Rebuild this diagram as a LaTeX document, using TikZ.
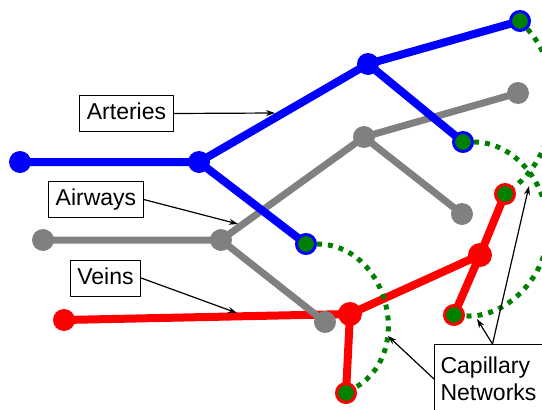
\documentclass[tikz,border=0pt]{standalone}
\usepackage{fontspec}
\setmainfont{Liberation Sans}
\usetikzlibrary{arrows.meta,backgrounds}
\begin{document}
\begin{tikzpicture}[x=1pt,y=-1pt,>={Stealth[length=9pt,width=6pt]},line join=round,
    vessel/.style={line width=8pt,line cap=round,#1},
    knot/.style={circle,fill=#1,inner sep=0pt,minimum size=22pt},
    leaf/.style={circle,fill=green!50!black,draw=#1,line width=3pt,inner sep=0pt,minimum size=19pt},
    capillary/.style={green!50!black,line width=5pt,dash pattern=on 5pt off 6pt},
    tag/.style={draw,line width=1pt,font=\fontsize{23}{27}\selectfont,inner xsep=7pt,inner ysep=7pt,text height=17pt,text depth=5pt},
    pointer/.style={->,line width=1.2pt}]
  \useasboundingbox (0,0) rectangle (542,410);
  \clip (0,0) rectangle (542,410);
  % veins
  \node[knot=red] (v0) at (64,320) {};
  \node[knot=red,minimum size=24pt] (v1) at (350,314) {};
  \node[knot=red,minimum size=24pt] (v2) at (480,255) {};
  \node[leaf=red] (v3) at (505,194) {};
  \node[leaf=red] (v4) at (454,315) {};
  \node[leaf=red] (v5) at (346,393) {};
  % airways
  \node[knot=gray] (w0) at (43,240) {};
  \node[knot=gray] (w1) at (221,240) {};
  \node[knot=gray] (w2) at (364,137) {};
  \node[knot=gray] (w3) at (518,93) {};
  \node[knot=gray] (w4) at (462,214) {};
  \node[knot=gray] (w5) at (325,322) {};
  % arteries
  \node[knot=blue] (a0) at (20,162) {};
  \node[knot=blue] (a1) at (199,162) {};
  \node[knot=blue] (a2) at (368,64) {};
  \node[leaf=blue] (a3) at (520,21) {};
  \node[leaf=blue] (a4) at (463,142) {};
  \node[leaf=blue] (a5) at (306,244) {};
  \begin{pgfonlayer}{background}
    \draw[vessel=red] (v0.center) -- (v1.center) -- (v2.center) -- (v3.center)
      (v1.center) -- (v5.center) (v2.center) -- (v4.center);
    \draw[vessel=gray,line width=7pt] (w0.center) -- (w1.center) -- (w2.center) -- (w3.center)
      (w2.center) -- (w4.center) (w1.center) -- (w5.center);
    \draw[vessel=blue] (a0.center) -- (a1.center) -- (a2.center) -- (a3.center)
      (a2.center) -- (a4.center) (a1.center) -- (a5.center);
  \end{pgfonlayer}
  % capillary beds between the arterial and venous ends
  \draw[capillary] (a5) .. controls (387,244) and (416,352) .. (v5);
  \draw[capillary] (a4) .. controls (512,142) and (548,180) .. (548,229)
    .. controls (548,278) and (505,319) .. (v4);
  \draw[capillary] (a3) .. controls (567,72) and (560,152) .. (v3);
  % labels
  \node[tag] (art) at (126.5,113.5) {Arteries};
  \node[tag] (air) at (96,199.5) {Airways};
  \node[tag] (vns) at (105.5,278) {Veins};
  \node[draw,line width=1pt,font=\fontsize{23}{27}\selectfont,align=left,anchor=north west,
    minimum width=108pt,minimum height=69pt] (cap) at (434,344) {Capillary\\Networks};
  \coordinate (art-tip) at (275,113);
  \coordinate (air-tip) at (238,224);
  \coordinate (vns-tip) at (237,313);
  \coordinate (cap-tip1) at (477,319);
  \coordinate (cap-tip2) at (529,186);
  \coordinate (cap-tip3) at (388,336);
  \draw[pointer] (art.east) -- (art-tip);
  \draw[pointer] (air.east) -- (air-tip);
  \draw[pointer] (vns.east) -- (vns-tip);
  \draw[pointer] ([xshift=4pt]cap.north) -- (cap-tip1);
  \draw[pointer] ([xshift=4pt]cap.north) -- (cap-tip2);
  \draw[pointer] (cap.west) -- (cap-tip3);
\end{tikzpicture}
\end{document}
